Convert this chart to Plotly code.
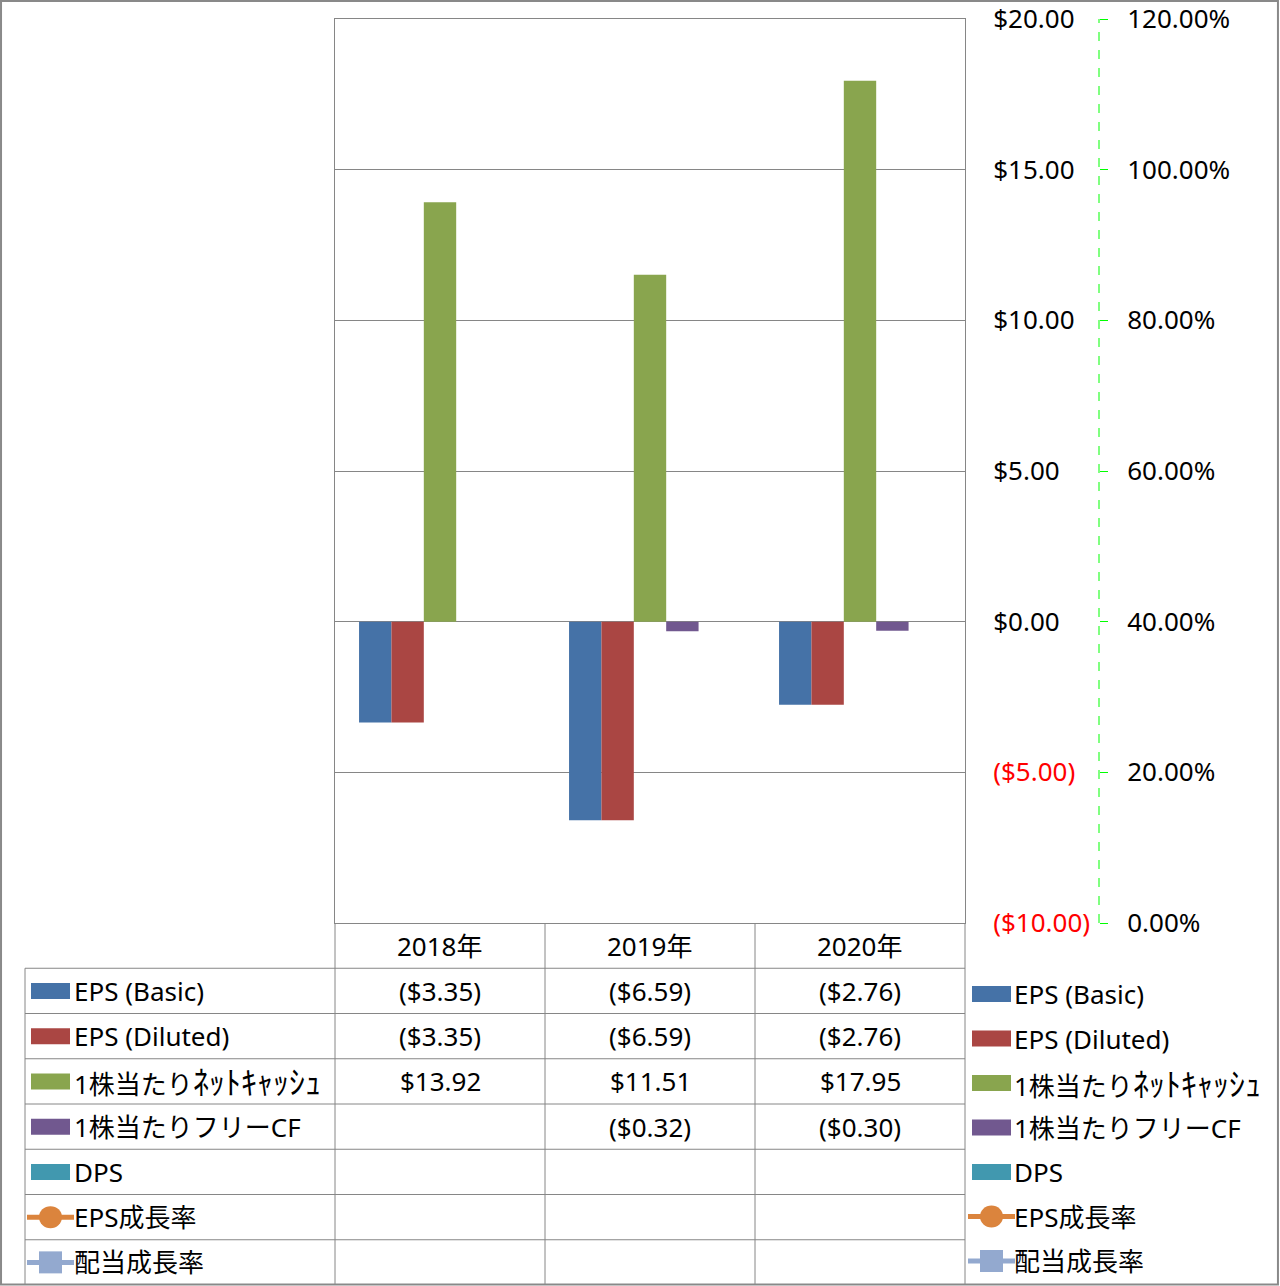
import plotly.graph_objects as go

W, H = 1280, 1286
FONT = "Noto Sans, Noto Sans CJK JP, sans-serif"

# data
years = ["2018年", "2019年", "2020年"]
eps_basic = [-3.35, -6.59, -2.76]
eps_diluted = [-3.35, -6.59, -2.76]
net_cash = [13.92, 11.51, 17.95]
free_cf = [None, -0.32, -0.30]
dps = [None, None, None]
eps_growth = [None, None, None]
div_growth = [None, None, None]

y_ticks = [-10, -5, 0, 5, 10, 15, 20]
y2_ticks = [0, 0.2, 0.4, 0.6, 0.8, 1.0, 1.2]

names = ["EPS (Basic)", "EPS (Diluted)", "1株当たりﾈｯﾄｷｬｯｼｭ", "1株当たりフリーCF",
         "DPS", "EPS成長率", "配当成長率"]
colors = ["#4572A7", "#AA4643", "#89A54E", "#71588F", "#4198AF", "#DB843D", "#93A9CF"]
bar_series = [eps_basic, eps_diluted, net_cash, free_cf, dps]
line_series = [eps_growth, div_growth]
kinds = ["bar"] * 5 + ["circle", "square"]


def px(x):
    return x / W


def py(y):
    return 1 - y / H


def money(v):
    if v is None:
        return ""
    return f"(${abs(v):.2f})" if v < 0 else f"${v:.2f}"


def label(name):
    # half-width kana drawn a bit larger, like the narrow kana in the original
    return name.replace("ﾈｯﾄｷｬｯｼｭ", '<span style="font-size:32px">ﾈｯﾄｷｬｯｼｭ</span>')


fig = go.Figure()
for name, vals, c in zip(names[:5], bar_series, colors[:5]):
    fig.add_trace(go.Bar(x=years, y=vals, name=name, marker_color=c, marker_line_width=0))
for name, vals, c, sym in zip(names[5:], line_series, colors[5:], ["circle", "square"]):
    fig.add_trace(go.Scatter(x=years, y=vals, name=name, yaxis="y2", mode="lines+markers",
                             line=dict(color=c, width=4), marker=dict(symbol=sym, size=16, color=c)))

# plot area geometry (pixels)
PL, PR, PT, PB = 335, 965, 19, 923
TL = 25
row_h = (1285 - PB) / 8
grid = "#868686"

ticktext = [f'<span style="color:red">{money(v)}</span>' if v < 0 else money(v) for v in y_ticks]

fig.update_layout(
    width=W, height=H,
    margin=dict(l=0, r=0, t=0, b=0, autoexpand=False),
    paper_bgcolor="white", plot_bgcolor="white",
    font=dict(family=FONT, size=26, color="black"),
    showlegend=False,
    barmode="group", bargap=0.229, bargroupgap=0,
    xaxis=dict(domain=[px(PL), px(PR)], showticklabels=False, ticks="", automargin=False,
               showline=True, mirror=True, linecolor=grid, linewidth=1, showgrid=False),
    yaxis=dict(domain=[py(PB), py(PT)], range=[-10, 20], side="right", automargin=False,
               tickvals=y_ticks, ticktext=ticktext, ticks="", ticklabelstandoff=22,
               showgrid=True, gridcolor=grid, gridwidth=1, zeroline=False,
               showline=True, mirror=True, linecolor=grid, linewidth=1),
    yaxis2=dict(overlaying="y", anchor="free", position=px(1099), side="right", automargin=False,
                range=[0, 1.2], tickvals=y2_ticks, tickformat=".2%",
                ticks="outside", ticklen=8, tickcolor="#00FF00", tickwidth=1,
                ticklabelstandoff=14, showgrid=False, zeroline=False, showline=False),
)

shapes = []
annotations = []

# secondary axis line (dashed green)
shapes.append(dict(type="line", xref="paper", yref="paper", x0=px(1099), x1=px(1099),
                   y0=py(PB), y1=py(PT), line=dict(color="#00FF00", width=1, dash="dash")))

# data table lines
for k in range(1, 8):
    y = PB + row_h * k
    shapes.append(dict(type="line", xref="paper", yref="paper", x0=px(TL), x1=px(PR),
                       y0=py(y), y1=py(y), line=dict(color=grid, width=1)))
for x in [PL, 545, 755, PR]:
    shapes.append(dict(type="line", xref="paper", yref="paper", x0=px(x), x1=px(x),
                       y0=py(PB), y1=py(1285), line=dict(color=grid, width=1)))
shapes.append(dict(type="line", xref="paper", yref="paper", x0=px(TL), x1=px(TL),
                   y0=py(PB + row_h), y1=py(1285), line=dict(color=grid, width=1)))

# header row
for yr in years:
    annotations.append(dict(x=yr, xref="x", y=py(PB + row_h / 2), yref="paper",
                            text=yr, showarrow=False, xanchor="center", yanchor="middle"))

# table values
for r, vals in enumerate(bar_series + line_series):
    yc = PB + row_h * (r + 1.5)
    for yr, v in zip(years, vals):
        if v is None:
            continue
        annotations.append(dict(x=yr, xref="x", y=py(yc), yref="paper", text=money(v),
                                showarrow=False, xanchor="center", yanchor="middle"))


def legend_key(x0, yc, kind, color):
    if kind == "bar":
        shapes.append(dict(type="rect", xref="paper", yref="paper", x0=px(x0), x1=px(x0 + 39),
                           y0=py(yc - 8), y1=py(yc + 8), fillcolor=color, line_width=0))
    else:
        shapes.append(dict(type="line", xref="paper", yref="paper", x0=px(x0 - 4), x1=px(x0 + 43),
                           y0=py(yc), y1=py(yc), line=dict(color=color, width=5)))
        shp = "circle" if kind == "circle" else "rect"
        shapes.append(dict(type=shp, xref="paper", yref="paper", x0=px(x0 + 8), x1=px(x0 + 31),
                           y0=py(yc - 11), y1=py(yc + 11), fillcolor=color, line_width=0))


# left column keys (inside table) and right legend
for r, (name, c, kind) in enumerate(zip(names, colors, kinds)):
    yc = PB + row_h * (r + 1.5)
    legend_key(31, yc, kind, c)
    annotations.append(dict(x=px(72), xref="paper", y=py(yc), yref="paper", text=label(name),
                            showarrow=False, xanchor="left", yanchor="middle"))
    yr = 994 + 44.5 * r
    legend_key(972, yr, kind, c)
    annotations.append(dict(x=px(1012), xref="paper", y=py(yr), yref="paper", text=label(name),
                            showarrow=False, xanchor="left", yanchor="middle"))

# outer border
shapes.append(dict(type="rect", xref="paper", yref="paper", x0=0.0008, x1=0.9984, y0=0.0012, y1=0.9992,
                   line=dict(color="#898989", width=2)))

fig.update_layout(shapes=shapes, annotations=annotations)
fig.write_html("out.html", config={"displayModeBar": False},
               post_script="document.body.style.margin='0';")
